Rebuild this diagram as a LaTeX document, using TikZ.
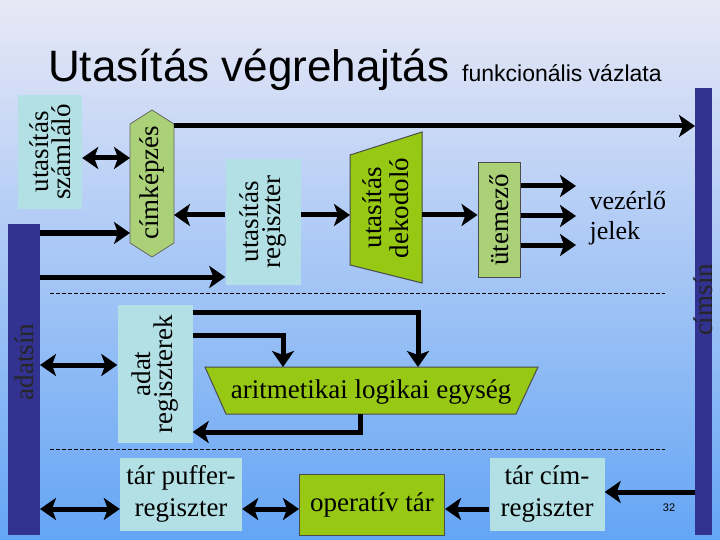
\documentclass[tikz,border=0pt]{standalone}
\usepackage{fontspec}
\setmainfont{Liberation Serif}
\newfontfamily\titlefont{Liberation Sans}
\usetikzlibrary{arrows.meta}
\definecolor{lcyan}{RGB}{178,224,228}
\definecolor{lgreen}{RGB}{170,208,120}
\definecolor{bgreen}{RGB}{150,200,20}
\definecolor{bus}{RGB}{50,50,145}
\tikzset{
  bigtext/.style={font=\fontsize{27}{27}\selectfont},
  box/.style={fill=lcyan, inner sep=0pt, align=center, bigtext},
  gbox/.style={fill=lgreen, draw=black!70, line width=1pt, inner sep=0pt, align=center, bigtext},
  tip/.tip={Stealth[length=16pt,width=22pt,inset=4pt]},
  arr/.style={line width=5pt, -tip},
  darr/.style={line width=5pt, tip-tip},
  sep/.style={line width=1pt, dash pattern=on 4pt off 2pt},
}
\begin{document}
\begin{tikzpicture}[x=1pt,y=-1pt]
\shade[top color={rgb,255:red,232;green,232;blue,246}, bottom color={rgb,255:red,100;green,165;blue,245}] (0,0) rectangle (720,540);
\useasboundingbox (0,0) rectangle (720,540);
% title
\node[anchor=base west, inner sep=0pt, font=\titlefont\fontsize{44}{46}\selectfont] (title) at (48,82) {Utasítás végrehajtás};
\node[anchor=base west, inner sep=0pt, font=\titlefont\fontsize{23}{24}\selectfont] (sub) at (462,82) {funkcionális vázlata};
% buses
\fill[bus] (695,88) rectangle (712,535);
\node[rotate=90, bigtext, text=black!85] (cimsin) at (703,300) {címsín};
\coordinate (cimbus) at (695,300);
\fill[bus] (8,224) rectangle (40,535);
\node[rotate=90, bigtext, text=black!85] (adatsin) at (24,362) {adatsín};
\coordinate (adatbus) at (40,360);
% top boxes
\node[box, minimum width=64pt, minimum height=114pt] (szaml) at (50,152) {\rotatebox{90}{\shortstack{utasítás\\számláló}}};
\fill[lgreen, draw=black!60, line width=0.8pt] (152,110) -- (174,124) -- (174,243) -- (152,257) -- (130,243) -- (130,124) -- cycle;
\node[rotate=90, bigtext] (cimk) at (152,183) {címképzés};
\coordinate (cimkW) at (130,183);
\coordinate (cimkE) at (174,183);
\node[box, minimum width=75pt, minimum height=125pt] (ureg) at (263,222) {\rotatebox{90}{\shortstack{utasítás\\regiszter}}};
\fill[bgreen, draw=black!70, line width=1pt] (350,155) -- (422,132) -- (422,283) -- (350,265) -- cycle;
\node[rotate=90, align=center, bigtext] (dek) at (386,208) {utasítás\\dekodoló};
\coordinate (dekW) at (350,215);
\coordinate (dekE) at (422,215);
\node[gbox, minimum width=42pt, minimum height=115pt] (utem) at (499,220) {\rotatebox{90}{ütemező}};
\node[align=left, anchor=west, font=\fontsize{26}{30}\selectfont] (vez) at (586,218) {vezérlő\\jelek};
% top arrows
\draw[arr] (cimkE |- 0,126) -- (cimbus |- 0,126);
\draw[darr] (szaml.east |- 0,158) -- (cimkW |- 0,158);
\draw[arr] (40,233) -- (cimkW |- 0,233);
\draw[arr] (40,277) -- (ureg.west |- 0,277);
\draw[arr] (ureg.west |- 0,215) -- (cimkE |- 0,215);
\draw[arr] (ureg.east |- 0,215) -- (dekW);
\draw[arr] (dekE) -- (utem.west |- 0,215);
\foreach \yy in {186,216,245} \draw[arr] (utem.east |- 0,\yy) -- (576,\yy);
% separators
\draw[sep] (50,293) -- (665,293);
\draw[sep] (50,449) -- (665,449);
% middle
\node[box, minimum width=75pt, minimum height=138pt] (adreg) at (155,374) {\rotatebox{90}{\shortstack{adat\\regiszterek}}};
\fill[bgreen, draw=black!70, line width=1pt] (205,367) -- (538,367) -- (516,414) -- (226,414) -- cycle;
\node[bigtext] (alu) at (371,392) {aritmetikai logikai egység};
\draw[darr] (adatbus |- 0,365) -- (adreg.west |- 0,365);
\draw[line width=5pt, -tip] (adreg.east |- 0,312) -- (418,312) -- (418,367);
\draw[line width=5pt, -tip] (adreg.east |- 0,335) -- (283,335) -- (283,367);
\draw[line width=5pt, -tip] (360,414) -- (360,432) -- (adreg.east |- 0,432);
% bottom
\node[box, minimum width=122pt, minimum height=73pt, font=\fontsize{27}{32}\selectfont] (puf) at (181,494) {tár puffer-\\regiszter};
\node[gbox, fill=bgreen, minimum width=145pt, minimum height=61pt] (op) at (372,505) {operatív tár};
\node[box, minimum width=115pt, minimum height=73pt, font=\fontsize{27}{32}\selectfont] (creg) at (547,494) {tár cím-\\regiszter};
\draw[darr] (40,509) -- (puf.west |- 0,509);
\draw[darr] (puf.east |- 0,509) -- (op.west |- 0,509);
\draw[arr] (creg.west |- 0,509) -- (op.east |- 0,509);
\draw[arr] (695,492) -- (creg.east |- 0,492);
\node[font=\titlefont\fontsize{11}{12}\selectfont] (pg) at (669,508) {32};
\end{tikzpicture}
\end{document}
